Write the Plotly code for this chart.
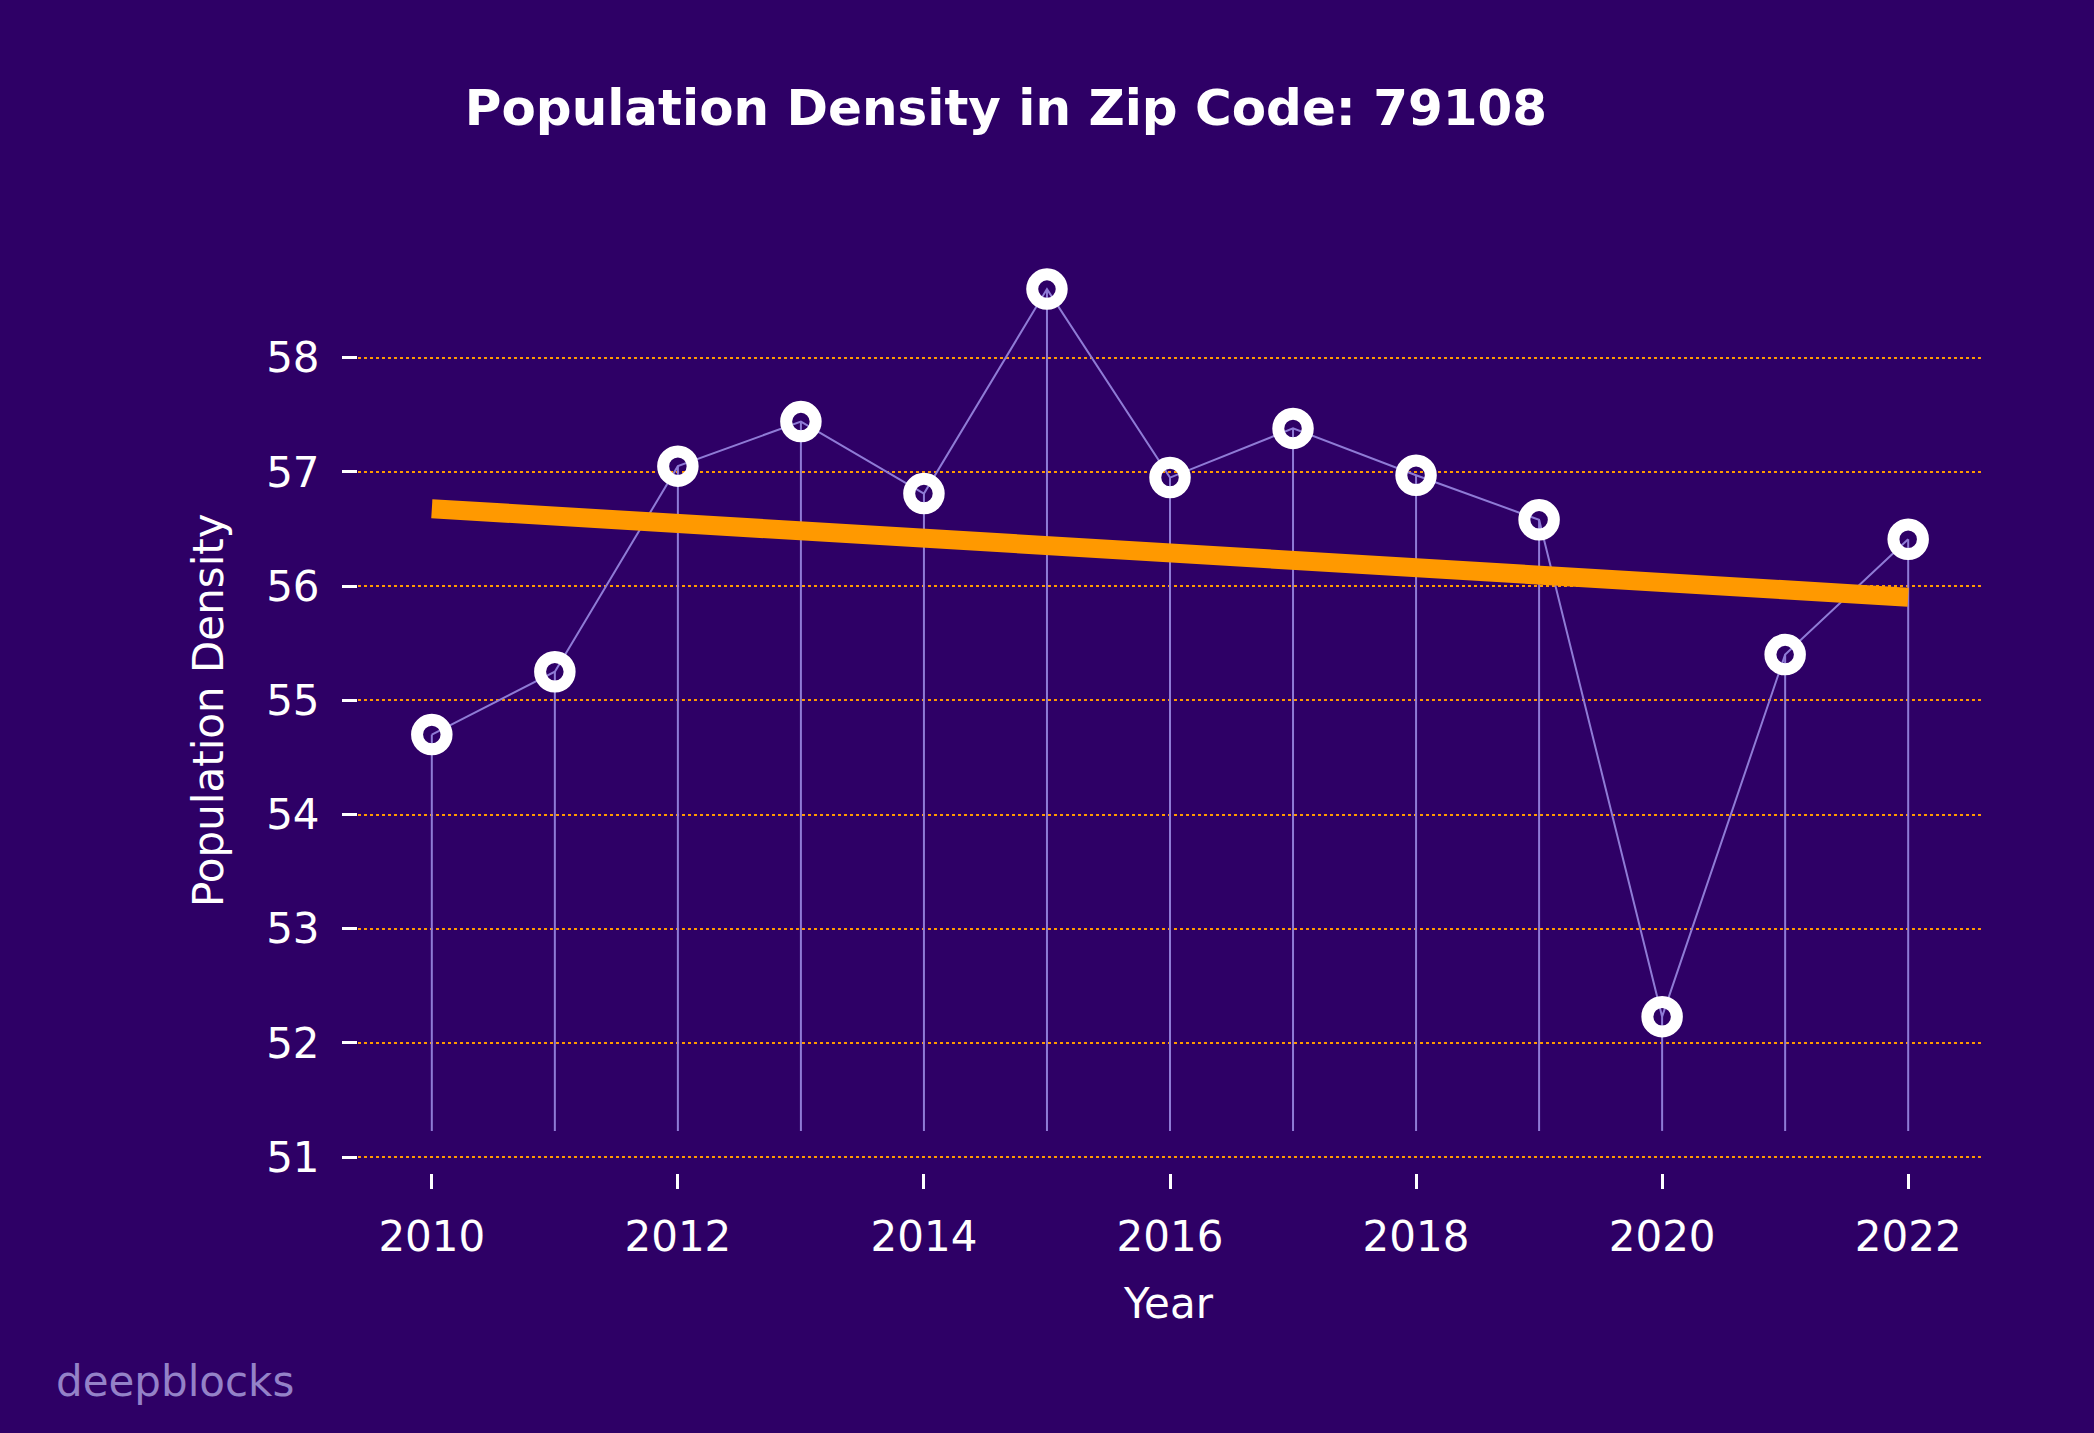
import numpy as np
import plotly.graph_objects as go

# ---- data ----
years = [2010, 2011, 2012, 2013, 2014, 2015, 2016, 2017, 2018, 2019, 2020, 2021, 2022]
density = [54.70, 55.25, 57.05, 57.44, 56.81, 58.60, 56.95, 57.38, 56.97, 56.58, 52.23, 55.40, 56.41]
title_text = "Population Density in Zip Code: 79108"
x_label = "Year"
y_label = "Population Density"
watermark = "deepblocks"
x_ticks = [2010, 2012, 2014, 2016, 2018, 2020, 2022]
y_ticks = [51, 52, 53, 54, 55, 56, 57, 58]

# ---- styles ----
BG = "#2e0066"
LAV = "#8f7bd6"
ORANGE = "#ff9900"
FONT = "DejaVu Sans"
W, H = 2094, 1433

base = min(density) - 1
stem_x, stem_y = [], []
for xv, yv in zip(years, density):
    stem_x += [xv, xv, None]
    stem_y += [base, yv, None]

coef = np.polyfit(years, density, 1)
trend_x = [years[0], years[-1]]
trend_y = list(np.polyval(coef, trend_x))

fig = go.Figure()
fig.add_trace(go.Scatter(x=stem_x, y=stem_y, mode="lines",
                         line=dict(color=LAV, width=2), hoverinfo="skip", showlegend=False))
fig.add_trace(go.Scatter(x=years, y=density, mode="lines",
                         line=dict(color=LAV, width=2), showlegend=False))
fig.add_trace(go.Scatter(x=trend_x, y=trend_y, mode="lines",
                         line=dict(color=ORANGE, width=19), showlegend=False))
fig.add_trace(go.Scatter(x=years, y=density, mode="markers",
                         marker=dict(symbol="circle", size=29.5, color="rgba(0,0,0,0)",
                                     line=dict(color="white", width=12)),
                         showlegend=False))

ymin = base
ymax = max(density)
pad = (ymax - ymin) * 0.05
xpad = (years[-1] - years[0]) * 0.05

L, R, T, B = 358, 112, 247, 260
PW, PH = W - L - R, H - T - B

def px(x):
    return (x - L) / PW

def py(y):
    return (H - B - y) / PH

fig.update_layout(
    width=W, height=H,
    paper_bgcolor=BG, plot_bgcolor=BG,
    margin=dict(l=L, r=R, t=T, b=B, pad=0),
    font=dict(family=FONT, color="white", size=42),
    showlegend=False,
    title=dict(text="<b>" + title_text + "</b>", x=1006 / W, y=1 - 107 / H,
               xref="container", yref="container", xanchor="center", yanchor="middle",
               font=dict(size=50, color="white", family=FONT)),
    xaxis=dict(range=[years[0] - xpad, years[-1] + xpad], tickvals=x_ticks,
               ticks="outside", ticklen=15, tickwidth=2.5, tickcolor="white",
               showgrid=False, zeroline=False, showline=False,
               tickfont=dict(size=42, color="white", family=FONT), ticklabelstandoff=12),
    yaxis=dict(range=[ymin - pad, ymax + pad], tickvals=y_ticks,
               ticks="outside", ticklen=15, tickwidth=2.5, tickcolor="white",
               showgrid=True, gridcolor=ORANGE, gridwidth=1.8, griddash="dot",
               zeroline=False, showline=False,
               tickfont=dict(size=42, color="white", family=FONT), ticklabelstandoff=14),
    annotations=[
        dict(text=x_label, x=px(1168), y=py(1303),
             xref="paper", yref="paper", xanchor="center", yanchor="middle",
             showarrow=False, font=dict(size=42, color="white", family=FONT)),
        dict(text=y_label, x=px(208), y=py(710),
             xref="paper", yref="paper", xanchor="center", yanchor="middle", textangle=-90,
             showarrow=False, font=dict(size=42, color="white", family=FONT)),
        dict(text=watermark, x=px(54), y=py(1381),
             xref="paper", yref="paper", xanchor="left", yanchor="middle",
             showarrow=False, font=dict(size=42, color="#9482c8", family=FONT)),
    ],
)

fig.write_html("out.html", config={"displayModeBar": False},
               post_script="document.body.style.margin='0';document.body.style.background='#2e0066';")
